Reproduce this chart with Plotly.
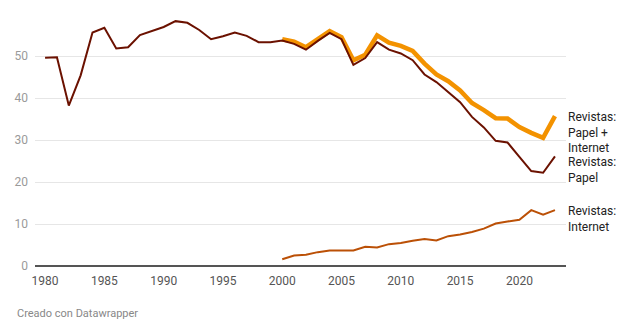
import plotly.graph_objects as go

years = list(range(1980, 2024))
papel = [49.6, 49.7, 38.2, 45.4, 55.6, 56.7, 51.8, 52.1, 55.0, 55.9,
         56.9, 58.3, 57.9, 56.2, 54.0, 54.7, 55.6, 54.8, 53.3, 53.3,
         53.7, 52.9, 51.5, 53.6, 55.5, 54.0, 47.9, 49.5, 53.3, 51.5,
         50.6, 49.0, 45.6, 43.8, 41.4, 39.0, 35.5, 33.0, 29.8, 29.4,
         26.0, 22.6, 22.2, 26.1]
years_web = list(range(2000, 2024))
internet = [1.6, 2.5, 2.7, 3.3, 3.7, 3.7, 3.7, 4.6, 4.4, 5.2,
            5.5, 6.0, 6.4, 6.1, 7.1, 7.5, 8.1, 8.9, 10.1, 10.6,
            11.0, 13.3, 12.2, 13.3]
papel_internet = [54.0, 53.4, 52.1, 54.1, 55.9, 54.5, 49.0, 50.3, 54.9, 53.2,
                  52.4, 51.2, 48.2, 45.6, 44.0, 41.8, 38.8, 37.1, 35.2, 35.1,
                  33.1, 31.7, 30.5, 35.7]
labels = ["Revistas:<br>Papel +<br>Internet", "Revistas:<br>Papel", "Revistas:<br>Internet"]
label_y = [31.9, 22.9, 11.1]
yticks = [0, 10, 20, 30, 40, 50]
xticks = [1980, 1985, 1990, 1995, 2000, 2005, 2010, 2015, 2020]

c_pi = "#f39200"
c_papel = "#6b1100"
c_web = "#bb5006"

fig = go.Figure()
fig.add_trace(go.Scatter(x=years_web, y=papel_internet, mode="lines",
                         line=dict(color=c_pi, width=4.5), hoverinfo="skip"))
fig.add_trace(go.Scatter(x=years, y=papel, mode="lines",
                         line=dict(color=c_papel, width=2), hoverinfo="skip"))
fig.add_trace(go.Scatter(x=years_web, y=internet, mode="lines",
                         line=dict(color=c_web, width=2), hoverinfo="skip"))

for t, yv in zip(labels, label_y):
    fig.add_annotation(x=1, xref="paper", y=yv, yref="y", text=t, showarrow=False,
                       xanchor="left", yanchor="middle", align="left",
                       font=dict(family="Roboto", size=12, color="#222"))

fig.add_annotation(x=0, xref="paper", y=0, yref="paper", xshift=-20, yshift=-47,
                   text="Creado con Datawrapper", showarrow=False,
                   xanchor="left", yanchor="middle",
                   font=dict(family="Roboto", size=11, color="#888"))

fig.update_layout(
    width=640, height=335,
    margin=dict(l=35, r=74, t=14, b=69),
    paper_bgcolor="white", plot_bgcolor="white",
    showlegend=False,
    font=dict(family="Roboto"),
    xaxis=dict(range=[1979.15, 2023.93], tickvals=xticks, showgrid=False,
               zeroline=False, showline=False, ticks="", ticklabelstandoff=6,
               tickfont=dict(size=12, color="#555")),
    yaxis=dict(range=[0, 60], tickvals=yticks, showgrid=True, gridcolor="#e6e6e6",
               gridwidth=1, zeroline=True, zerolinecolor="#555", zerolinewidth=2,
               showline=False, ticks="", ticklabelstandoff=6,
               tickfont=dict(size=12, color="#9a9a9a")),
)
fig.write_html("out.html")
